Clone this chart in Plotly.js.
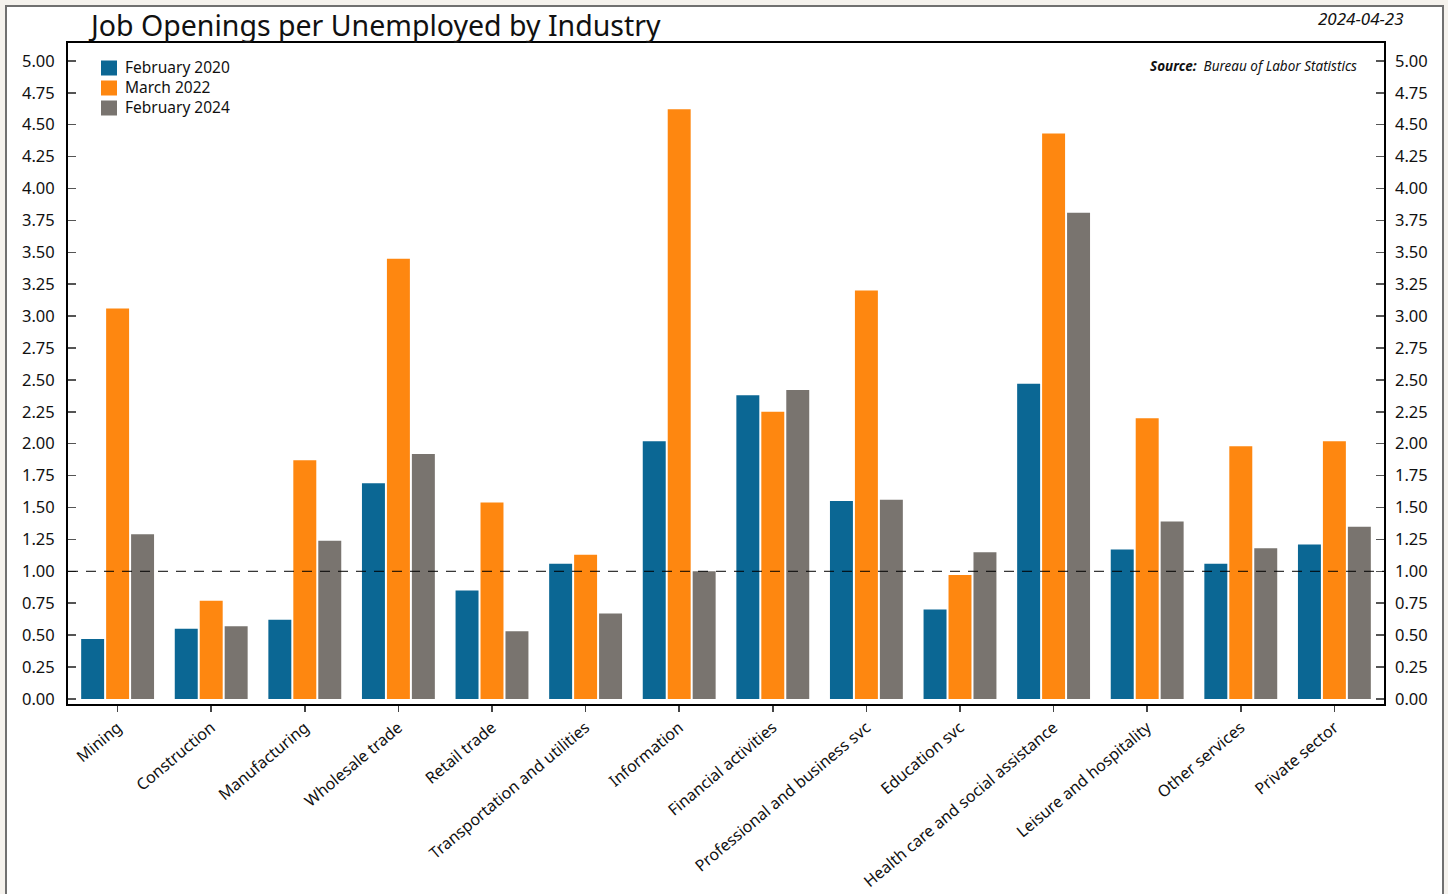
<!DOCTYPE html>
<html>
<head>
<meta charset="utf-8">
<script src="https://cdn.plot.ly/plotly-3.0.1.min.js"></script>
<style>
html,body{margin:0;padding:0;background:#f5f2ed;}
#chart{width:1448px;height:894px;}
</style>
</head>
<body>
<div id="chart"></div>
<script>
const categories = ["Mining","Construction","Manufacturing","Wholesale trade","Retail trade","Transportation and utilities","Information","Financial activities","Professional and business svc","Education svc","Health care and social assistance","Leisure and hospitality","Other services","Private sector"];
const feb2020 = [0.47,0.55,0.62,1.69,0.85,1.06,2.02,2.38,1.55,0.70,2.47,1.17,1.06,1.21];
const mar2022 = [3.06,0.77,1.87,3.45,1.54,1.13,4.62,2.25,3.20,0.97,4.43,2.20,1.98,2.02];
const feb2024 = [1.29,0.57,1.24,1.92,0.53,0.67,1.00,2.42,1.56,1.15,3.81,1.39,1.18,1.35];
const seriesNames = ["February 2020","March 2022","February 2024"];
const seriesColors = ["#0b6794","#fe8710","#79746f"];
const tickVals = [0,0.25,0.5,0.75,1,1.25,1.5,1.75,2,2.25,2.5,2.75,3,3.25,3.5,3.75,4,4.25,4.5,4.75,5];
const tickText = tickVals.map(v => v.toFixed(2));
const refLevel = 1.0;
const titleText = "Job Openings per Unemployed by Industry";
const dateText = "2024-04-23";
const sourceText = "<b><i>Source:</i></b>  <i>Bureau of Labor Statistics</i>";

const FONT = "Noto Sans, Open Sans, sans-serif";
const yr = [-0.04, 5.14];
const series = [feb2020, mar2022, feb2024];
const traces = series.map((vals, i) => ({
  type: "bar", x: categories, y: vals, name: seriesNames[i],
  marker: {color: seriesColors[i]}, hoverinfo: "x+y+name", showlegend: false
}));
// invisible trace to activate right axis
traces.push({type:"scatter", x:[categories[0]], y:[0], yaxis:"y2", mode:"markers",
  marker:{opacity:0}, showlegend:false, hoverinfo:"skip"});

const L = 68, R = 1384, T = 43, B = 704, W = 1448, H = 894;
const px = x => (x - L) / (R - L);
const py = y => (B - y) / (B - T);

const shapes = [
  {type: "rect", xref: "paper", yref: "paper", layer: "below",
    x0: px(6), x1: px(1443), y0: py(900), y1: py(6),
    fillcolor: "#ffffff", line: {color: "#707070", width: 2}},
  {type: "line", xref: "paper", yref: "y", x0: 0, x1: 1, y0: refLevel, y1: refLevel,
    line: {color: "#000", width: 1, dash: "10px,8px"}}
];
const annotations = [
  {text: titleText, xref: "paper", yref: "paper", x: px(86), y: py(25), xanchor: "left", yanchor: "middle",
    showarrow: false, font: {family: FONT, size: 28.5, color: "#111"}},
  {text: "<i>" + dateText + "</i>", xref: "paper", yref: "paper", x: px(1406), y: py(18), xanchor: "right", yanchor: "middle",
    showarrow: false, font: {family: FONT, size: 17, color: "#111"}},
  {text: sourceText, xref: "paper", yref: "paper", x: px(1359), y: py(66),
    xanchor: "right", yanchor: "middle", showarrow: false, font: {family: FONT, size: 13.5, color: "#111"}}
];
// legend (top-left, inside plot): swatches + one multi-line label block
seriesNames.forEach((name, i) => {
  const cy = 68 + 20 * i;
  shapes.push({type: "rect", xref: "paper", yref: "paper",
    x0: px(101), x1: px(117), y0: py(cy + 7.5), y1: py(cy - 7.5),
    fillcolor: seriesColors[i], line: {width: 0}});
});
annotations.push({text: seriesNames.join("<br>"), xref: "paper", yref: "paper", x: px(123), y: py(87),
  xanchor: "left", yanchor: "middle", align: "left", showarrow: false,
  font: {family: FONT, size: 15.5, color: "#111"}});

const tickFont = {family: FONT, size: 16.5, color: "#111"};
const layout = {
  width: W, height: H,
  margin: {l: L, r: W - R, t: T, b: H - B, pad: 0},
  paper_bgcolor: "#f5f2ed",
  plot_bgcolor: "rgba(0,0,0,0)",
  font: {family: FONT, color: "#111", size: 15},
  barmode: "group", bargap: 0.2, bargroupgap: 0.08,
  showlegend: false,
  xaxis: {type: "category", range: [-0.53, 13.53], tickangle: -40,
    showline: true, linecolor: "#000", linewidth: 2, mirror: true,
    ticks: "outside", ticklen: 6, tickcolor: "#444", tickwidth: 1.5,
    tickfont: {family: FONT, size: 16, color: "#111"}, showgrid: false, zeroline: false},
  yaxis: {range: yr, tickvals: tickVals, ticktext: tickText,
    showline: true, linecolor: "#000", linewidth: 2, mirror: true,
    ticks: "inside", ticklen: 8, tickcolor: "#555", tickwidth: 1.5, ticklabelstandoff: 8,
    tickfont: tickFont, showgrid: false, zeroline: false},
  yaxis2: {range: yr, tickvals: tickVals, ticktext: tickText, overlaying: "y", side: "right",
    showline: false, ticks: "inside", ticklen: 8, tickcolor: "#555", tickwidth: 1.5, ticklabelstandoff: 10,
    tickfont: tickFont, showgrid: false, zeroline: false},
  shapes: shapes,
  annotations: annotations
};

Plotly.newPlot("chart", traces, layout, {displayModeBar: false, staticPlot: true});
</script>
</body>
</html>
